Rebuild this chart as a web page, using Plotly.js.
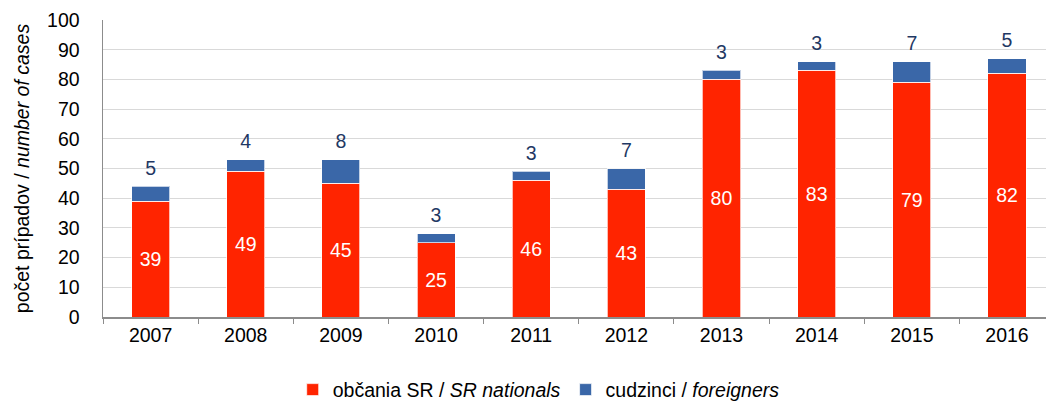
<!DOCTYPE html>
<html>
<head>
<meta charset="utf-8">
<script src="https://cdn.plot.ly/plotly-3.0.1.min.js"></script>
<style>html,body{margin:0;padding:0;background:#fff}#chart{width:1046px;height:402px}</style>
</head>
<body>
<div id="chart"></div>
<script>
const years = ['2007','2008','2009','2010','2011','2012','2013','2014','2015','2016'];
const nationals = [39,49,45,25,46,43,80,83,79,82];
const foreigners = [5,4,8,3,3,7,3,3,7,5];
const nationalsName = 'občania SR / <i>SR nationals</i>';
const foreignersName = 'cudzinci / <i>foreigners</i>';
const yTitle = 'počet prípadov / <i>number of cases</i>';

const font = 'Liberation Sans, Arial, sans-serif';
const fs = 19.5;
const totals = nationals.map((v,i)=>v+foreigners[i]);

const traces = [
  {type:'bar', x:years, y:nationals, name:nationalsName,
   marker:{color:'#FF2400', line:{color:'rgba(255,255,255,0.7)', width:1}},
   width:0.4, text:nationals.map(String), textposition:'inside', insidetextanchor:'middle',
   textfont:{color:'#ffffff', size:fs, family:font}, hoverinfo:'none'},
  {type:'bar', x:years, y:foreigners, name:foreignersName,
   marker:{color:'#3A67A8', line:{color:'rgba(255,255,255,0.7)', width:1}},
   width:0.4, hoverinfo:'none'},
  {type:'scatter', mode:'markers+text', x:years, y:totals, text:foreigners.map(String),
   marker:{size:9, opacity:0}, textposition:'top center', cliponaxis:false,
   showlegend:false, hoverinfo:'none',
   textfont:{color:'#1F3864', size:fs, family:font}}
];

const layout = {
  width:1046, height:402,
  margin:{l:103, r:0, t:20, b:85},
  barmode:'stack',
  paper_bgcolor:'#fff', plot_bgcolor:'#fff',
  font:{family:font, size:fs, color:'#000'},
  showlegend:true,
  legend:{orientation:'h', x:0.515, xref:'container', xanchor:'center',
          y:0.03, yref:'container', yanchor:'middle',
          font:{size:fs, family:font, color:'#000'}, traceorder:'normal'},
  xaxis:{type:'category', range:[-0.5, 9.41], showline:true, linecolor:'#8c8c8c', linewidth:1.5,
         ticks:'outside', tickson:'boundaries', ticklen:5, tickcolor:'#8c8c8c',
         tickfont:{size:fs, family:font, color:'#000'}, showgrid:false},
  yaxis:{range:[0,100], dtick:10, showline:true, linecolor:'#8c8c8c', linewidth:1.5,
         ticks:'', gridcolor:'#d9d9d9', gridwidth:1, zeroline:false,
         tickfont:{size:fs, family:font, color:'#000'}, ticklabelstandoff:18,
         title:{text:yTitle, font:{size:fs, family:font, color:'#000'}, standoff:12}},
};

Plotly.newPlot('chart', traces, layout, {staticPlot:true, displayModeBar:false});
</script>
</body>
</html>
